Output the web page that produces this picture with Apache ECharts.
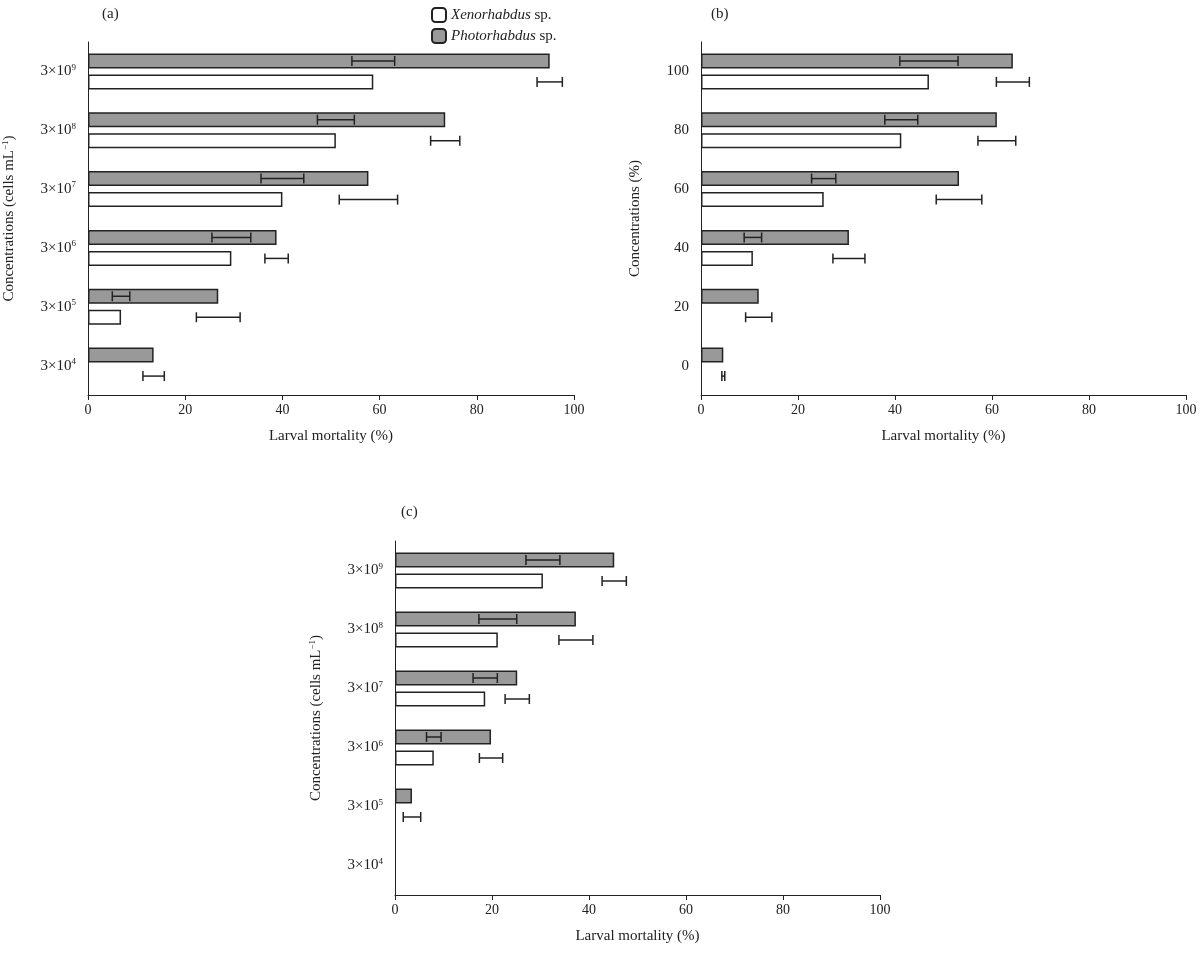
<!DOCTYPE html>
<html><head><meta charset="utf-8">
<script src="https://cdn.jsdelivr.net/npm/echarts@6/dist/echarts.min.js"></script>
<style>html,body{margin:0;padding:0;background:#fff}#c{width:1200px;height:956px}</style>
</head><body><div id="c"></div>
<script>
// categories bottom -> top
const catsCells = ['3×10{s|4}','3×10{s|5}','3×10{s|6}','3×10{s|7}','3×10{s|8}','3×10{s|9}'];
const catsPct = ['0','20','40','60','80','100'];
const xTicks = [0,20,40,60,80,100];

const aX = ['-',6.8,29.5,40,51,58.7];
const aXerr = [0,1.8,4,4.4,3.8,4.4];
const aP = [13.5,26.8,38.8,57.7,73.5,95];
const aPerr = [2.2,4.5,2.4,6,3,2.6];

const bX = ['-','-',10.7,25.3,41.3,47];
const bXerr = [0,0,1.8,2.5,3.4,6];
const bP = [4.6,11.9,30.5,53.2,61,64.3];
const bPerr = [0.3,2.7,3.3,4.7,3.9,3.4];

const cX = ['-','-',8,18.6,21.2,30.5];
const cXerr = [0,0,1.5,2.5,3.9,3.5];
const cP = ['-',3.5,19.8,25.2,37.3,45.2];
const cPerr = [0,1.8,2.4,2.5,3.5,2.5];

const FONT = '"Liberation Serif","DejaVu Serif",serif';
const grids = [
  {left:88,width:486,top:42,height:353},
  {left:701,width:485,top:42,height:353},
  {left:395,width:485,top:541,height:354}
];
const panels = [
  {cats:catsCells, X:aX, Xe:aXerr, P:aP, Pe:aPerr, yname:'Concentrations (cells mL{s|−1})'},
  {cats:catsPct, X:bX, Xe:bXerr, P:bP, Pe:bPerr, yname:'Concentrations (%)'},
  {cats:catsCells, X:cX, Xe:cXerr, P:cP, Pe:cPerr, yname:'Concentrations (cells mL{s|−1})'}
];
const rich = {s:{fontSize:9, verticalAlign:'top', padding:[0,0,8,0], fontFamily:FONT, color:'#222'}};
const xAxis=[], yAxis=[], series=[];
panels.forEach((p,i)=>{
  xAxis.push({gridIndex:i,type:'value',min:0,max:100,interval:20,
    name:'Larval mortality (%)',nameLocation:'middle',nameGap:34,
    nameTextStyle:{fontFamily:FONT,fontSize:15,color:'#222'},
    axisLine:{show:true,lineStyle:{color:'#222'}},axisTick:{show:true,length:5,lineStyle:{color:'#222'}},
    splitLine:{show:false},axisLabel:{fontFamily:FONT,fontSize:14,color:'#222',
      formatter:v=>xTicks.includes(v)?String(v):''}});
  yAxis.push({gridIndex:i,type:'category',data:p.cats,
    name:p.yname,nameLocation:'middle',nameGap:i===1?58:70,nameRotate:90,
    nameTextStyle:{fontFamily:FONT,fontSize:15,color:'#222',rich:rich},
    axisLine:{lineStyle:{color:'#222'}},axisTick:{length:5,lineStyle:{color:'#222'}},
    axisLabel:{fontFamily:FONT,fontSize:15,color:'#222',margin:12,rich:rich}});
  series.push({type:'bar',name:'Photorhabdus sp.',xAxisIndex:i,yAxisIndex:i,data:p.P,
    barWidth:15,barGap:'40%',itemStyle:{color:'#999',borderColor:'#222',borderWidth:1.5}});
  series.push({type:'bar',name:'Xenorhabdus sp.',xAxisIndex:i,yAxisIndex:i,data:p.X,
    barWidth:15,barGap:'40%',itemStyle:{color:'#fff',borderColor:'#222',borderWidth:1.5}});
  const eb=[];
  p.P.forEach((v,k)=>{if(v!=='-')eb.push([v,k,p.Pe[k],1]);});
  p.X.forEach((v,k)=>{if(v!=='-')eb.push([v,k,p.Xe[k],-1]);});
  series.push({type:'custom',xAxisIndex:i,yAxisIndex:i,data:eb,silent:true,z:10,
    renderItem:(params,api)=>{
      const v=api.value(0),k=api.value(1),e=api.value(2),s=api.value(3);
      const off=s*10.5;
      const a=api.coord([v-e,k]),b=api.coord([v+e,k]);
      const y=a[1]+off;
      const st={stroke:'#222',lineWidth:1.5};
      return {type:'group',children:[
        {type:'line',shape:{x1:a[0],y1:y,x2:b[0],y2:y},style:st},
        {type:'line',shape:{x1:a[0],y1:y-5,x2:a[0],y2:y+5},style:st},
        {type:'line',shape:{x1:b[0],y1:y-5,x2:b[0],y2:y+5},style:st}]};
    }});
});
const chart=echarts.init(document.getElementById('c'));
chart.setOption({
  animation:false,backgroundColor:'#fff',
  title:[
    {text:'(a)',left:97,top:2,textStyle:{fontFamily:FONT,fontSize:15,fontWeight:'normal',color:'#222'}},
    {text:'(b)',left:706,top:2,textStyle:{fontFamily:FONT,fontSize:15,fontWeight:'normal',color:'#222'}},
    {text:'(c)',left:396,top:500,textStyle:{fontFamily:FONT,fontSize:15,fontWeight:'normal',color:'#222'}}
  ],
  legend:{left:426,top:2,orient:'vertical',itemWidth:14,itemHeight:14,itemGap:5,
    data:['Xenorhabdus sp.','Photorhabdus sp.'],
    formatter:n=>'{i|'+n.replace(' sp.','')+'} sp.',
    textStyle:{fontFamily:FONT,fontSize:15,color:'#222',
      rich:{i:{fontStyle:'italic',fontFamily:FONT,fontSize:15,color:'#222'}}}},
  grid:grids,xAxis:xAxis,yAxis:yAxis,series:series
});
</script></body></html>
